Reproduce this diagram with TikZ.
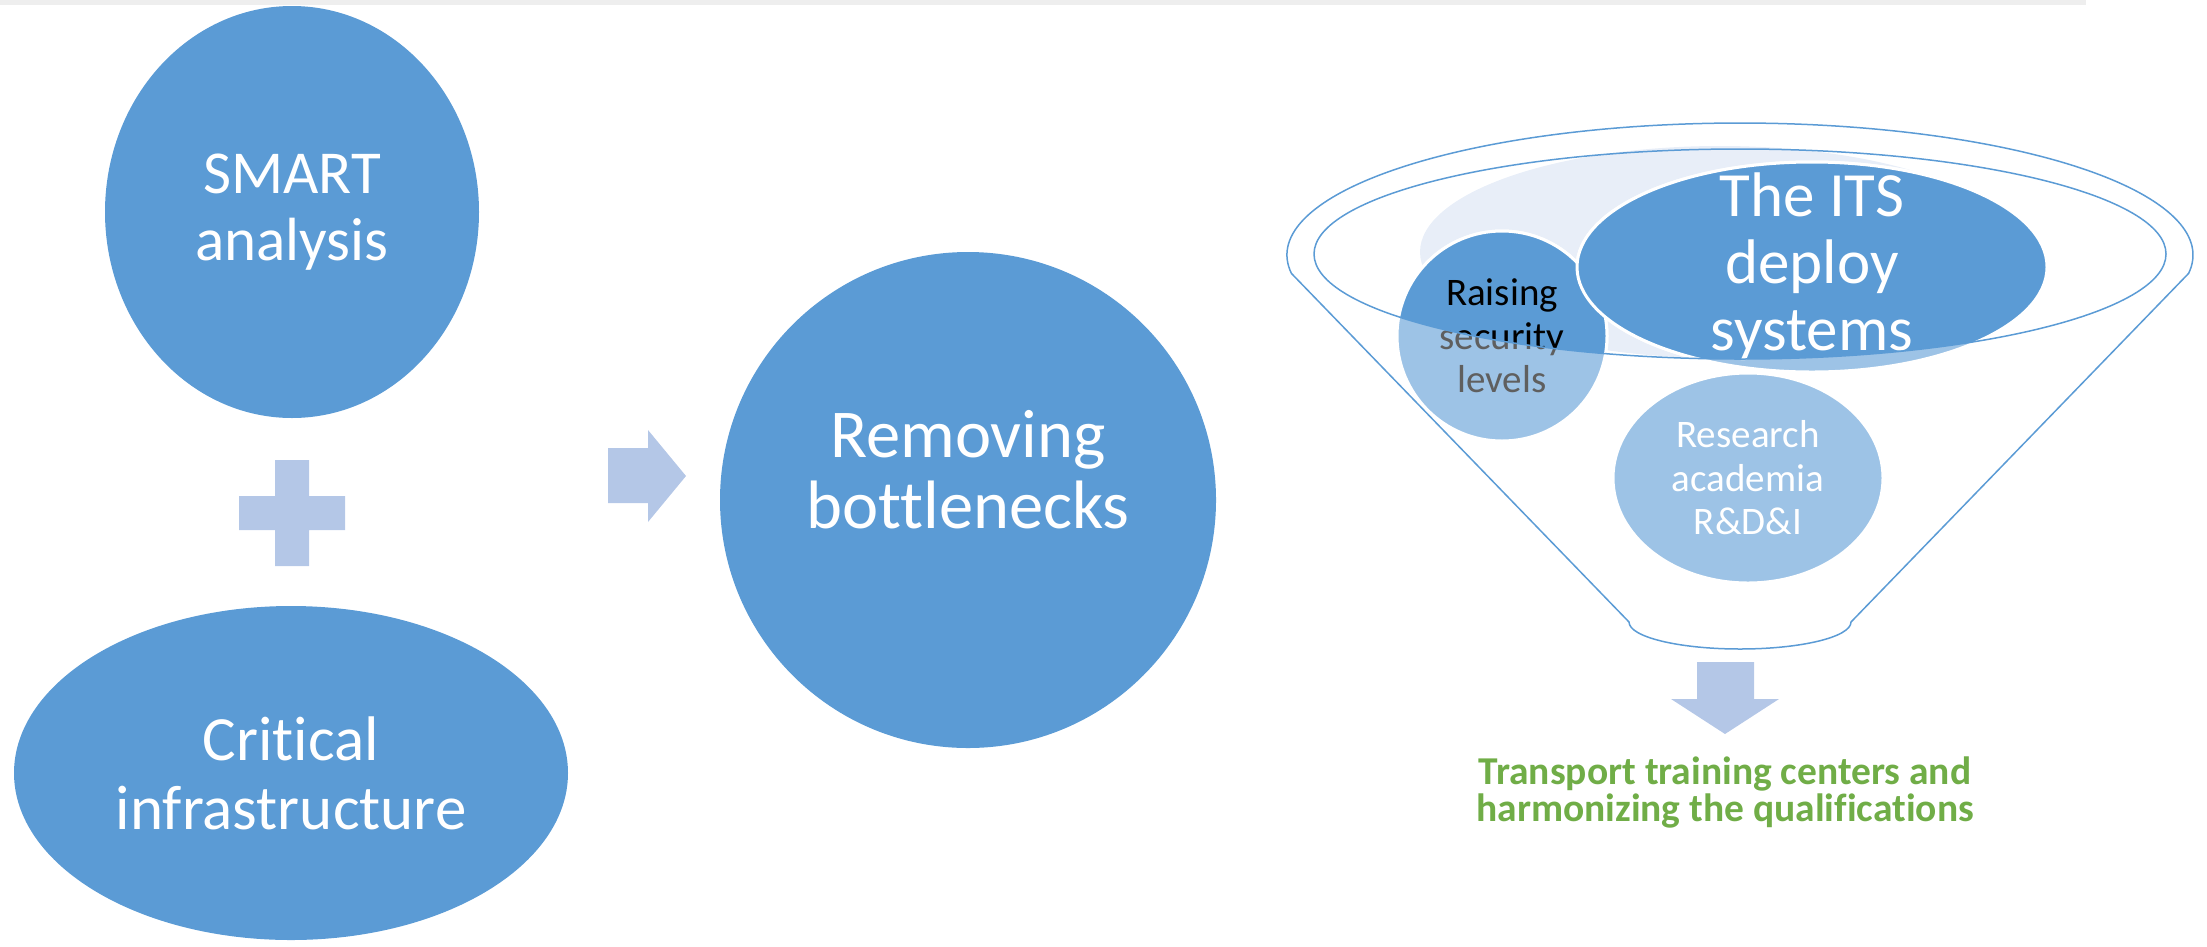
\documentclass[tikz,border=0pt]{standalone}
\usepackage{fontspec}
\setmainfont{Carlito}[Ligatures=CommonOff]
\usetikzlibrary{shapes.geometric}
\definecolor{blobblue}{HTML}{5B9BD5}
\definecolor{lightblob}{HTML}{9DC3E6}
\definecolor{paleblob}{HTML}{E8EEF8}
\definecolor{arrowblue}{HTML}{B4C7E7}
\definecolor{leafgreen}{HTML}{70AD47}
\definecolor{txtgray}{HTML}{5F5F5F}
\definecolor{topstrip}{HTML}{EEEEEE}
\tikzset{
    blob/.style={ellipse,fill=blobblue,text=white,inner sep=0pt,align=center},
    hugefont/.style={font=\fontsize{68.5}{71}\selectfont},
    bigfont/.style={font=\fontsize{61}{67}\selectfont},
    wordfont/.style={font=\fontsize{63}{69}\selectfont},
    midfont/.style={font=\fontsize{39}{43.5}\selectfont},
    goalfont/.style={font=\bfseries\fontsize{39.5}{37}\selectfont},
    inblob/.style={ellipse,draw=white,line width=3,inner sep=0pt,align=center,midfont},
    funnel/.style={draw=blobblue,line width=1.5},
    block/.style={fill=arrowblue}
}

\begin{document}
\begin{tikzpicture}[x=1pt,y=-1pt]
        \useasboundingbox (0,0) rectangle (2207,946);
        \fill[topstrip] (0,0) rectangle (2086,5);

        % left column: two blobs joined by a plus
        \node[blob,bigfont,minimum width=374,minimum height=412] (smart) at (292,212) {SMART\\analysis};
        \node[blob,wordfont,minimum width=554,minimum height=334] (crit) at (291,773) {Critical\\infrastructure};
        \fill[block] (275,460) -- (309,460) -- (309,496) -- (345,496) -- (345,530)
            -- (309,530) -- (309,566) -- (275,566) -- (275,530) -- (239,530)
            -- (239,496) -- (275,496) -- cycle;

        % arrow to the middle circle
        \fill[block] (608,448) -- (648,448) -- (648,430) -- (686,476)
            -- (648,522) -- (648,503) -- (608,503) -- cycle;
        \node[blob,minimum size=496] (remove) at (968,500) {};
        \node[hugefont,text=white,align=center] (removetxt) at (968,470) {Removing\\bottlenecks};

        % funnel contents
        \coordinate (ring) at (1740,254);
        \node[ellipse,fill=paleblob,minimum width=600,minimum height=212] (pale) at (1720,252) {};
        \node[inblob,fill=lightblob,text=txtgray,minimum size=210] (raise) at (1502,336) {Raising\\security\\levels};
        \node[inblob,fill=lightblob,minimum width=470,minimum height=210] (its) at (1812,267) {};
        \node[inblob,fill=lightblob,text=white,minimum width=270,minimum height=210] (research) at (1748,478) {Research\\academia\\R\&D\&I};
        \begin{scope}
            \clip (ring) ellipse[x radius=426,y radius=105];
            \node[inblob,fill=blobblue,text=black,minimum size=210] (raisetop) at (raise) {Raising\\security\\levels};
            \node[inblob,fill=blobblue,minimum width=470,minimum height=210] (itstop) at (its) {};
        \end{scope}
        \node[wordfont,text=white,align=center,font=\fontsize{63}{67}\selectfont] (itstxt) at (1812,266.5) {The ITS\\deploy\\systems};

        % funnel outline
        \draw[funnel] (ring) ellipse[x radius=426,y radius=105];
        \draw[funnel] (1291.4,273.4) arc[start angle=172,end angle=368,x radius=453,y radius=132]
            -- (1851,622) arc[start angle=0,end angle=180,x radius=111,y radius=27] -- cycle;

        % out of the funnel
        \fill[block] (1697,662) -- (1754,662) -- (1754,699) -- (1779,699)
            -- (1725,734) -- (1671,699) -- (1697,699) -- cycle;
        \node[goalfont,text=leafgreen,align=center] (goal) at (1725,792) {Transport training centers and\\harmonizing the qualifications};
    \end{tikzpicture}
\end{document}
